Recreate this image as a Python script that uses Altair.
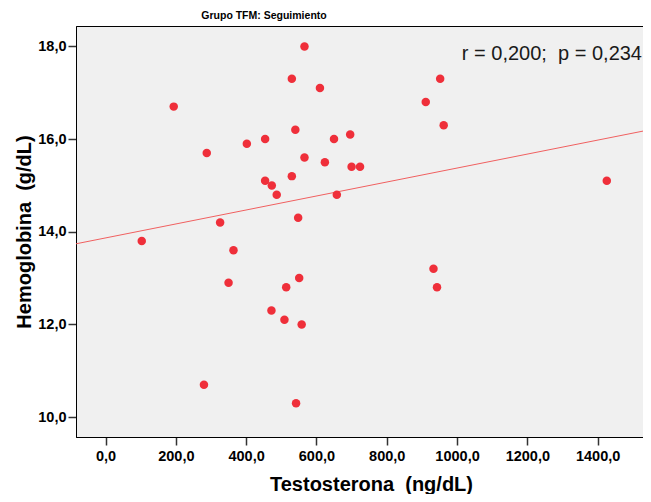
import altair as alt
import pandas as pd

# ---- data ----
testosterona = [566, 194, 530, 610, 540, 454, 402, 650, 696, 288,
                566, 624, 700, 724, 530, 454, 473, 487, 658, 326,
                548, 103, 364, 350, 551, 514, 472, 509, 558, 280,
                542, 952, 911, 962, 1426, 933, 943]
hemoglobina = [18.0, 16.7, 17.3, 17.1, 16.2, 16.0, 15.9, 16.0, 16.1, 15.7,
               15.6, 15.5, 15.4, 15.4, 15.2, 15.1, 15.0, 14.8, 14.8, 14.2,
               14.3, 13.8, 13.6, 12.9, 13.0, 12.8, 12.3, 12.1, 12.0, 10.7,
               10.3, 17.3, 16.8, 16.3, 15.1, 13.2, 12.8]
annotation = ["r = 0,200;\u00a0 p = 0,234"]
chart_title = "Grupo TFM: Seguimiento"
x_title = "Testosterona\u00a0 (ng/dL)"
y_title = "Hemoglobina\u00a0 (g/dL)"
x_ticks = [0, 200, 400, 600, 800, 1000, 1200, 1400]
y_ticks = [10, 12, 14, 16, 18]
X_DOMAIN = [-84, 1529]
Y_DOMAIN = [9.57, 18.44]

df = pd.DataFrame({"Testosterona": testosterona, "Hemoglobina": hemoglobina})
ann_df = pd.DataFrame({"label": annotation})

FONT = "Liberation Sans"
fmt = "replace(format(datum.value, '.1f'), '.', ',')"

x_enc = alt.X(
    "Testosterona:Q",
    scale=alt.Scale(domain=X_DOMAIN, nice=False, zero=False),
    axis=alt.Axis(values=x_ticks, labelExpr=fmt, title=x_title, grid=False,
                  tickSize=8, labelPadding=4, titleX=295, titleY=53,
                  titleAlign="center", titleBaseline="alphabetic"),
)
y_enc = alt.Y(
    "Hemoglobina:Q",
    scale=alt.Scale(domain=Y_DOMAIN, nice=False, zero=False),
    axis=alt.Axis(values=y_ticks, labelExpr=fmt, title=y_title, grid=False,
                  tickSize=8, labelPadding=2, titleX=-46, titleY=205.5,
                  titleAngle=-90, titleAlign="center", titleBaseline="alphabetic"),
)

points = alt.Chart(df).mark_circle(size=72, color="#ef2f3a", opacity=1).encode(
    x=x_enc, y=y_enc
)

line = alt.Chart(df).transform_regression(
    "Testosterona", "Hemoglobina", extent=X_DOMAIN
).mark_line(color="#f06060", strokeWidth=1, clip=True).encode(x=x_enc, y=y_enc)

text = alt.Chart(ann_df).mark_text(
    font=FONT, fontSize=20, align="right", baseline="alphabetic", color="#1a1a1a"
).encode(text="label:N", x=alt.value(566), y=alt.value(34))

chart = alt.layer(line, points, text).properties(
    width=567,
    height=411,
    autosize="none",
    padding={"left": 68, "top": 18, "right": 0, "bottom": 57},
    background="white",
    title=alt.TitleParams(
        text=chart_title, anchor="middle", frame="group", dx=-95.5, dy=8, offset=5,
        baseline="alphabetic", fontSize=10.5, font=FONT, fontWeight="bold", color="black",
    ),
).configure_view(
    fill="#f0f0f0", stroke="black", strokeWidth=1
).configure_axis(
    domainColor="black", domainWidth=1, tickColor="#333333", tickWidth=1.5,
    labelFont=FONT, labelFontWeight="bold", labelFontSize=14.5, labelColor="black",
    titleFont=FONT, titleFontWeight="bold", titleFontSize=20, titleColor="black",
)

chart.save("out.html", embed_options={"renderer": "svg", "actions": False})
